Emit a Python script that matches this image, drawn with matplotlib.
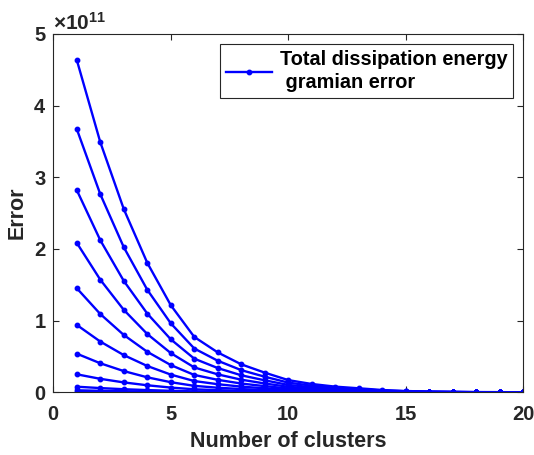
import numpy as np
import matplotlib
matplotlib.use("Agg")
import matplotlib.pyplot as plt
from matplotlib.ticker import ScalarFormatter

plt.rcParams['font.family'] = ['Liberation Sans', 'DejaVu Sans']
plt.rcParams['font.weight'] = 'bold'
plt.rcParams['mathtext.fontset'] = 'custom'
plt.rcParams['mathtext.rm'] = 'Liberation Sans:bold'
plt.rcParams['mathtext.default'] = 'rm'

SCALE = 1e11
clusters = list(range(1, 21))

# error curves, in units of 1e11
err_1 = [4.637, 3.49, 2.556, 1.806, 1.215, 0.772, 0.556, 0.39, 0.274, 0.17,
         0.116, 0.079, 0.056, 0.032, 0.018, 0.010, 0.006, 0.003, 0.002, 0.001]
err_2 = [3.673, 2.764, 2.024, 1.430, 0.962, 0.611, 0.440, 0.309, 0.217, 0.135,
         0.092, 0.063, 0.044, 0.025, 0.014, 0.008, 0.005, 0.002, 0.002, 0.001]
err_3 = [2.821, 2.122, 1.554, 1.098, 0.739, 0.469, 0.338, 0.237, 0.167, 0.103,
         0.071, 0.048, 0.034, 0.019, 0.011, 0.006, 0.004, 0.002, 0.001, 0.001]
err_4 = [2.085, 1.571, 1.150, 0.813, 0.547, 0.347, 0.250, 0.176, 0.123, 0.077,
         0.052, 0.036, 0.025, 0.014, 0.008, 0.005, 0.003, 0.001, 0.001, 0.0]
err_5 = [1.452, 1.092, 0.800, 0.565, 0.380, 0.242, 0.174, 0.122, 0.086, 0.053,
         0.036, 0.025, 0.018, 0.010, 0.006, 0.003, 0.002, 0.001, 0.001, 0.0]
err_6 = [0.940, 0.708, 0.519, 0.367, 0.247, 0.157, 0.113, 0.079, 0.056, 0.035,
         0.024, 0.016, 0.011, 0.006, 0.004, 0.002, 0.001, 0.001, 0.0, 0.0]
err_7 = [0.539, 0.405, 0.296, 0.209, 0.141, 0.090, 0.064, 0.045, 0.032, 0.020,
         0.013, 0.009, 0.006, 0.004, 0.002, 0.001, 0.001, 0.0, 0.0, 0.0]
err_8 = [0.251, 0.188, 0.138, 0.098, 0.066, 0.042, 0.030, 0.021, 0.015, 0.009,
         0.006, 0.004, 0.003, 0.002, 0.001, 0.001, 0.0, 0.0, 0.0, 0.0]
err_9 = [0.078, 0.059, 0.043, 0.031, 0.021, 0.013, 0.009, 0.007, 0.005, 0.003,
         0.002, 0.001, 0.001, 0.001, 0.0, 0.0, 0.0, 0.0, 0.0, 0.0]
err_10 = [0.028, 0.021, 0.015, 0.011, 0.007, 0.005, 0.003, 0.002, 0.002, 0.001,
          0.001, 0.0, 0.0, 0.0, 0.0, 0.0, 0.0, 0.0, 0.0, 0.0]
err_11 = [0.003, 0.002, 0.002, 0.001, 0.001, 0.001, 0.0, 0.0, 0.0, 0.0,
          0.0, 0.0, 0.0, 0.0, 0.0, 0.0, 0.0, 0.0, 0.0, 0.0]
curves = [err_1, err_2, err_3, err_4, err_5, err_6, err_7, err_8, err_9, err_10, err_11]

legend_label = 'Total dissipation energy\n gramian error'
axis_col = '#262626'

fig = plt.figure(figsize=(5.34, 4.55), dpi=100)
ax = fig.add_axes([0.0998, 0.1378, 0.8802, 0.7875])

for i, c in enumerate(curves):
    ax.plot(clusters, np.array(c) * SCALE, color='#0000ff', lw=1.7,
            marker='o', markersize=3.2, label=legend_label if i == 0 else None)

ax.set_xlim(0, 20)
ax.set_ylim(0, 5 * SCALE)
ax.set_xticks([0, 5, 10, 15, 20])
ax.set_yticks(np.arange(0, 6) * SCALE)

fmt = ScalarFormatter(useMathText=True)
fmt.set_powerlimits((0, 0))
ax.yaxis.set_major_formatter(fmt)
off = ax.yaxis.get_offset_text()
off.set_fontsize(15)
off.set_fontweight('bold')
off.set_color(axis_col)

ax.tick_params(direction='in', top=True, right=True, length=4, width=0.8,
               colors=axis_col, labelsize=14.5)
ax.tick_params(axis='x', pad=9.5)
ax.tick_params(axis='y', pad=5)
for lab in ax.get_xticklabels() + ax.get_yticklabels():
    lab.set_fontweight('bold')
for sp in ax.spines.values():
    sp.set_color(axis_col)
    sp.set_linewidth(0.8)

ax.set_xlabel('Number of clusters', fontsize=15.5, fontweight='bold', color=axis_col, labelpad=5)
ax.set_ylabel('Error', fontsize=15.5, fontweight='bold', color=axis_col, labelpad=4)

leg = ax.legend(loc='upper right', bbox_to_anchor=(0.979, 0.972), fancybox=False,
                framealpha=1, edgecolor=axis_col, fontsize=14.3, handlelength=2.3,
                borderpad=0.3, handletextpad=0.4, borderaxespad=0, labelspacing=0.3)
leg.get_frame().set_linewidth(0.8)
for t in leg.get_texts():
    t.set_fontweight('bold')
    t.set_linespacing(1.3)

fig.savefig('out.png', dpi=100)
